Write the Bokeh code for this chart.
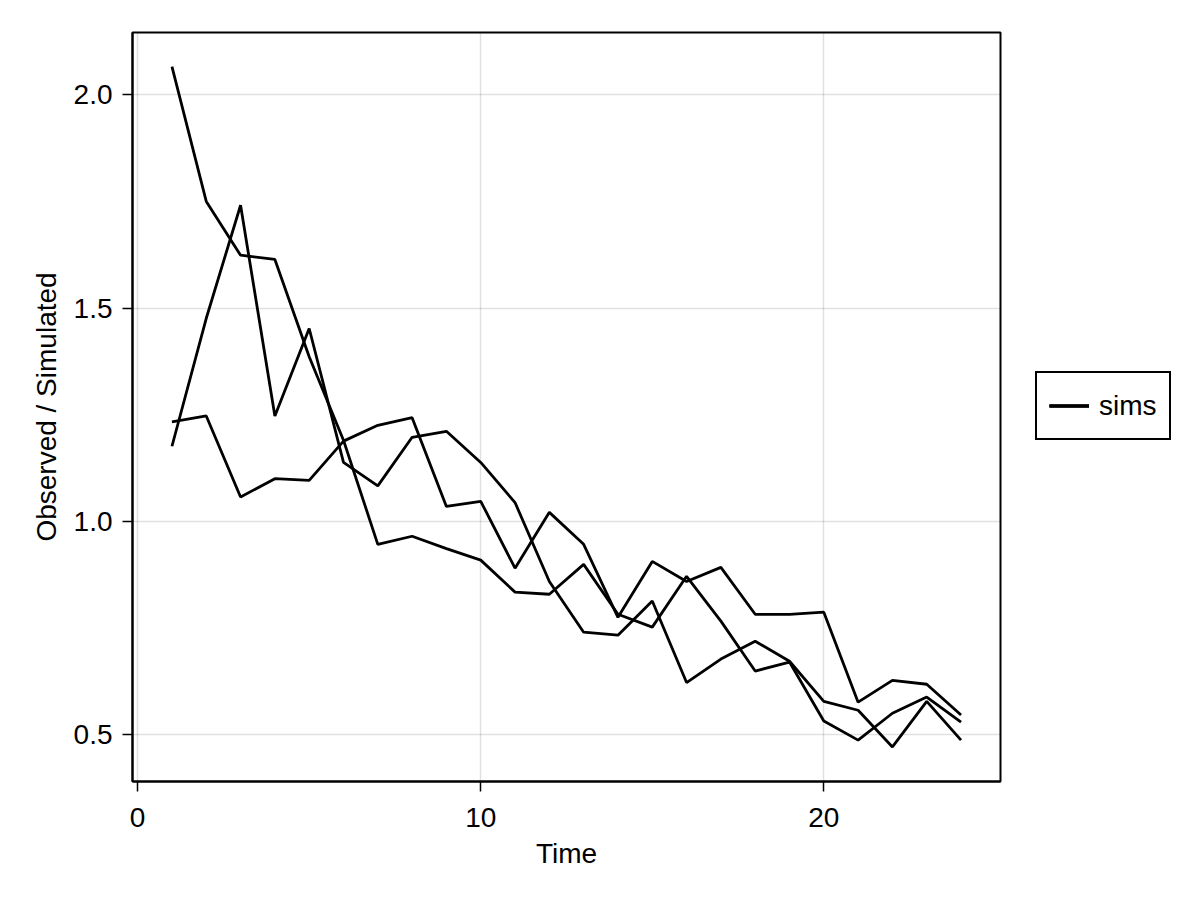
from bokeh.plotting import figure
from bokeh.models import Legend, LegendItem, FixedTicker, Range1d
from bokeh.embed import file_html
from bokeh.resources import INLINE

time = list(range(1, 25))
sim1 = [2.066, 1.75, 1.624, 1.614, 1.386, 1.19, 0.946, 0.965, 0.936, 0.909, 0.834, 0.829,
        0.899, 0.782, 0.752, 0.871, 0.766, 0.649, 0.670, 0.532, 0.487, 0.55, 0.588, 0.529]
sim2 = [1.233, 1.247, 1.057, 1.10, 1.096, 1.188, 1.225, 1.243, 1.035, 1.047, 0.89, 1.021,
        0.946, 0.775, 0.906, 0.859, 0.892, 0.782, 0.782, 0.787, 0.576, 0.627, 0.618, 0.546]
sim3 = [1.176, 1.476, 1.741, 1.247, 1.452, 1.138, 1.083, 1.197, 1.211, 1.138, 1.044, 0.859,
        0.74, 0.733, 0.813, 0.622, 0.677, 0.719, 0.672, 0.578, 0.557, 0.471, 0.578, 0.487]
series = [sim1, sim2, sim3]

x_ticks = [0, 10, 20]
x_tick_labels = ["0", "10", "20"]
y_ticks = [0.5, 1.0, 1.5, 2.0]
y_tick_labels = ["0.5", "1.0", "1.5", "2.0"]

FONT = "Liberation Sans"
FS = "28px"

p = figure(frame_width=868, frame_height=749,
           min_border_left=132, min_border_top=32, min_border_right=184, min_border_bottom=103,
           x_range=Range1d(-0.15, 25.15), y_range=Range1d(0.39, 2.146),
           output_backend="svg", toolbar_location=None,
           background_fill_color="white", border_fill_color="white")

renderers = []
for s in series:
    r = p.line(time, s, line_color="black", line_width=2.8)
    renderers.append(r)

p.outline_line_color = "black"
p.outline_line_width = 2
p.outline_line_alpha = 1

for ax, ticks, labels in ((p.xaxis[0], x_ticks, x_tick_labels), (p.yaxis[0], y_ticks, y_tick_labels)):
    ax.ticker = FixedTicker(ticks=ticks)
    ax.major_label_overrides = {t: l for t, l in zip(ticks, labels)}
    ax.axis_line_color = "black"
    ax.axis_line_width = 2
    ax.major_tick_line_color = "black"
    ax.major_tick_line_width = 1.5
    ax.major_tick_out = 10
    ax.major_tick_in = 0
    ax.minor_tick_line_color = None
    ax.major_label_text_font = FONT
    ax.major_label_text_font_size = FS
    ax.major_label_text_color = "black"
    ax.axis_label_text_font = FONT
    ax.axis_label_text_font_size = FS
    ax.axis_label_text_font_style = "normal"
    ax.axis_label_text_color = "black"

p.xaxis.axis_label = "Time"
p.yaxis.axis_label = "Observed / Simulated"
p.xaxis.major_label_standoff = 16
p.xaxis.axis_label_standoff = 8
p.yaxis.major_label_standoff = 10
p.yaxis.axis_label_standoff = 9

for g, ticks in ((p.xgrid[0], x_ticks), (p.ygrid[0], y_ticks)):
    g.ticker = FixedTicker(ticks=ticks)
    g.grid_line_color = "black"
    g.grid_line_alpha = 0.12
    g.grid_line_width = 1.5

legend = Legend(items=[LegendItem(label="sims", renderers=renderers)],
                location=(35, 341), orientation="vertical",
                padding=12, margin=0, glyph_width=40, glyph_height=41,
                label_standoff=10, spacing=0,
                border_line_color="black", border_line_width=2, border_line_alpha=1,
                background_fill_color="white", background_fill_alpha=1,
                label_text_font=FONT, label_text_font_size=FS, label_text_color="black")
p.add_layout(legend, "right")

open("out.html", "w").write(file_html(p, INLINE))
